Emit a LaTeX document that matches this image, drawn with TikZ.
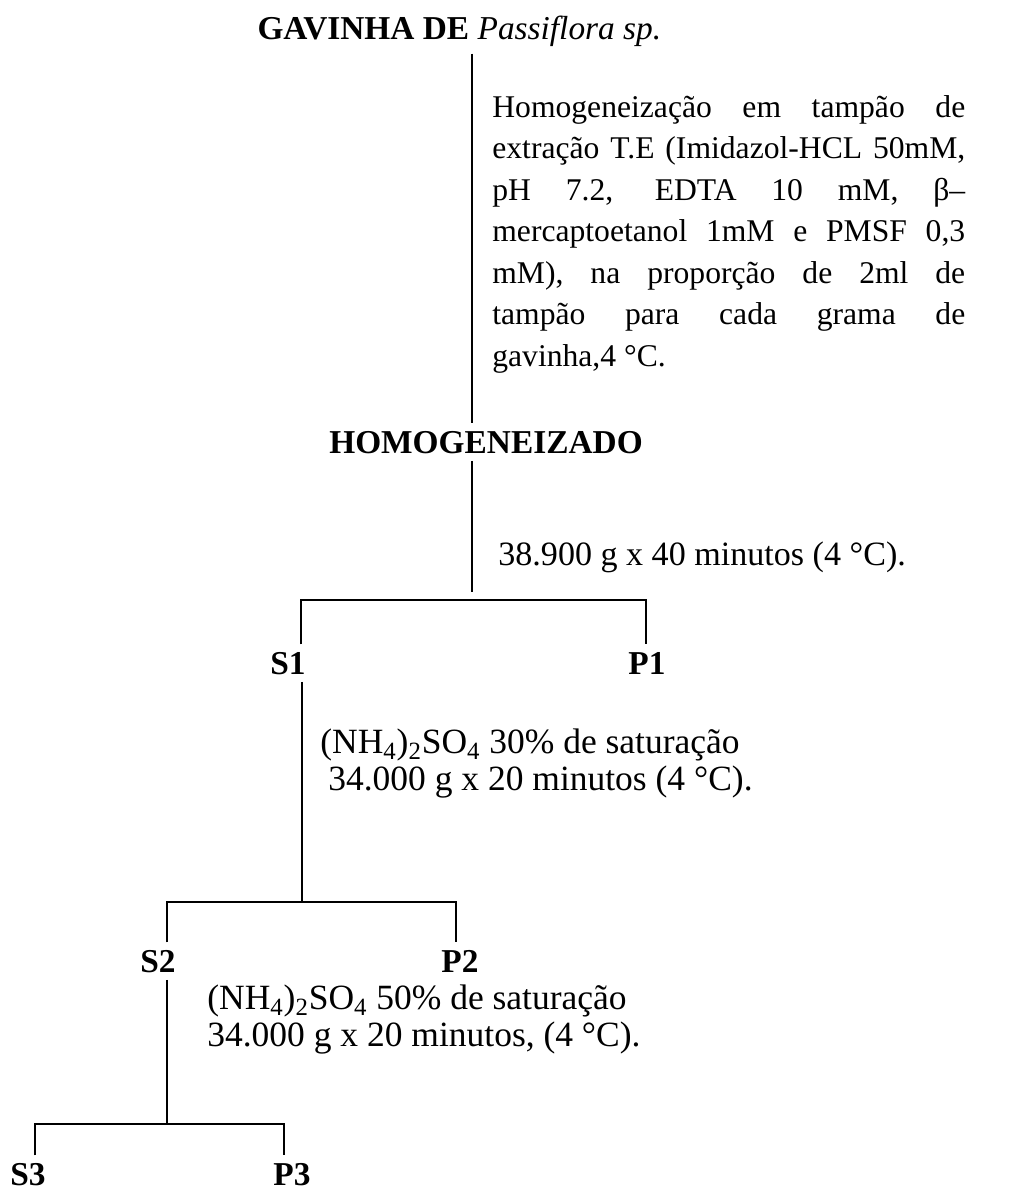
\documentclass[tikz,border=0pt]{standalone}
\usepackage{fontspec}
\setmainfont{Liberation Serif}
\usetikzlibrary{positioning}
\tikzset{
  stage/.style={font=\fontsize{19}{22}\selectfont\bfseries, inner sep=0pt, outer sep=0.15cm, anchor=base},
  cond/.style={font=\fontsize{19.4}{21}\selectfont, inner sep=0pt, align=left},
  link/.style={line width=0.9pt},
}
\begin{document}
\begin{tikzpicture}[x=0.02cm, y=-0.02cm]
\useasboundingbox (0,0) rectangle (1011,1190);

% Stages
\node[stage, anchor=base west] (source) at (250,39) {GAVINHA DE {\mdseries\itshape Passiflora sp.}};
\node[stage] (homog) at (486,453) {HOMOGENEIZADO};
\node[stage] (s1) at (288,674) {S1};
\node[stage] (p1) at (647,674) {P1};
\node[stage] (s2) at (158,972) {S2};
\node[stage] (p2) at (460,972) {P2};
\node[stage] (s3) at (28,1185) {S3};
\node[stage] (p3) at (292,1185) {P3};

% Conditions
\node[cond, anchor=north west, text width=9.46cm, align=justify, font=\fontsize{18}{23.6}\selectfont] (cond0) at (492,95)
  {\tolerance=9999\hyphenpenalty=10000
   Homogeneização em tampão de\linebreak
   extração T.E (Imidazol-HCL 50mM,\linebreak
   pH 7.2, EDTA 10 mM, β–\linebreak
   mercaptoetanol 1mM e PMSF 0,3\linebreak
   mM), na proporção de 2ml de\linebreak
   tampão para cada grama de\linebreak
   gavinha,4 °C.};
\node[cond, anchor=base west] (cond1) at (498,565) {38.900 g x 40 minutos (4 °C).};
\node[cond, anchor=north west, font=\fontsize{20.2}{21}\selectfont] (cond2) at (320,729)
  {(NH\textsubscript{4})\textsubscript{2}SO\textsubscript{4} 30\% de saturação\\
   \hspace*{0.16cm}34.000 g x 20 minutos (4 °C).};
\node[cond, anchor=north west, font=\fontsize{20.2}{21}\selectfont] (cond3) at (207,985)
  {(NH\textsubscript{4})\textsubscript{2}SO\textsubscript{4} 50\% de saturação\\
   34.000 g x 20 minutos, (4 °C).};

% Junctions
\coordinate (j1) at (472,600);
\coordinate (j1l) at (301,600);
\coordinate (j1r) at (646,600);
\coordinate (j2) at (302,902);
\coordinate (j2l) at (167,902);
\coordinate (j2r) at (456,902);
\coordinate (j3) at (167,1124);
\coordinate (j3l) at (35,1124);
\coordinate (j3r) at (284,1124);

% Links
\draw[link] (source.south -| j1) -- (homog.north -| j1);
\draw[link] (homog.south -| j1) -- ([yshift=0.16cm]j1);
\draw[link] (s1.north -| j1l) -- (j1l) -- (j1r) -- (p1.north -| j1r);
\draw[link] (s1.south -| j2) -- (j2);
\draw[link] (s2.north -| j2l) -- (j2l) -- (j2r) -- (p2.north -| j2r);
\draw[link] (s2.south -| j3) -- (j3);
\draw[link] (s3.north -| j3l) -- (j3l) -- (j3r) -- (p3.north -| j3r);
\end{tikzpicture}
\end{document}
